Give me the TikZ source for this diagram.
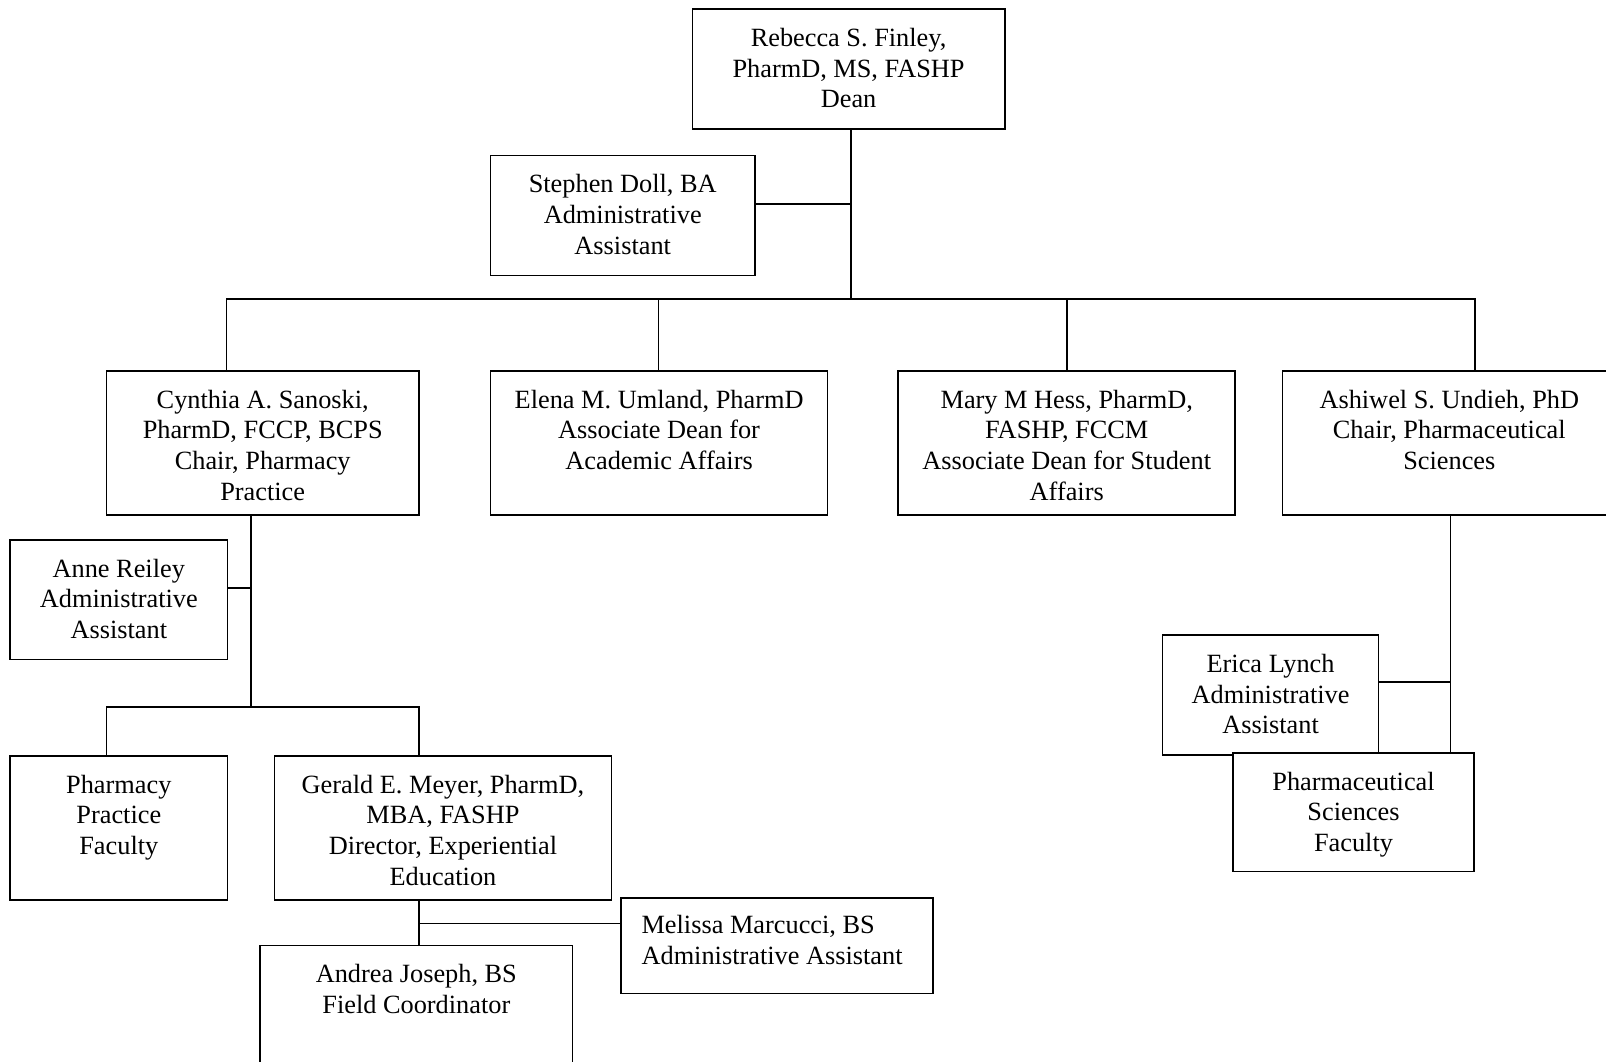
\documentclass[tikz,border=0pt]{standalone}
\usepackage{fontspec}
\setmainfont{Liberation Serif}
\begin{document}
\begin{tikzpicture}[x=0.5pt,y=-0.5pt,
  box/.style={draw, line width=0.8pt, fill=white, inner sep=0pt, outer sep=0pt, anchor=north west},
  txt/.style={align=center, inner sep=0pt, font=\fontsize{12.85pt}{15pt}\selectfont},
  ln/.style={line width=0.8pt},
  thinln/.style={line width=0.5pt}]
\clip (0,0) rectangle (1568,1036);
\fill[white] (0,0) rectangle (1568,1036);

% boxes
\node[box, minimum width=152.5pt, minimum height=58.5pt] (dean) at (676,9) {};
\node[box, minimum width=129pt, minimum height=58.5pt] (stephen) at (479,152) {};
\node[box, minimum width=152.5pt, minimum height=70.5pt] (cyn) at (104,362) {};
\node[box, minimum width=164.5pt, minimum height=70.5pt] (elena) at (479,362) {};
\node[box, minimum width=164.5pt, minimum height=70.5pt] (mary) at (877,362) {};
\node[box, minimum width=164pt, minimum height=70.5pt] (ash) at (1252,362) {};
\node[box, minimum width=106pt, minimum height=58.5pt] (anne) at (10,527) {};
\node[box, minimum width=106pt, minimum height=70.5pt] (ppf) at (10,738) {};
\node[box, minimum width=164.5pt, minimum height=70.5pt] (gerald) at (268,738) {};
\node[box, minimum width=152.5pt, minimum height=46.5pt] (melissa) at (606,877) {};
\node[box, minimum width=152.5pt, minimum height=75pt] (andrea) at (254,923) {};
\node[box, minimum width=105.5pt, minimum height=58.5pt] (erica) at (1135,620) {};
\node[box, minimum width=117.5pt, minimum height=58pt] (psf) at (1204,735) {};

% texts
\node[txt, below=7.5pt] (deanT) at (dean.north) {\strut Rebecca S. Finley,\\PharmD, MS, FASHP\\Dean};
\node[txt, below=7.5pt] (stephenT) at (stephen.north) {\strut Stephen Doll, BA\\Administrative\\Assistant};
\node[txt, below=7.5pt] (cynT) at (cyn.north) {\strut Cynthia A. Sanoski,\\PharmD, FCCP, BCPS\\Chair, Pharmacy\\Practice};
\node[txt, below=7.5pt] (elenaT) at (elena.north) {\strut Elena M. Umland, PharmD\\Associate Dean for\\Academic Affairs};
\node[txt, below=7.5pt] (maryT) at (mary.north) {\strut Mary M Hess, PharmD,\\FASHP, FCCM\\Associate Dean for Student\\Affairs};
\node[txt, below=7.5pt] (ashT) at ([xshift=-0.5pt]ash.north) {\strut Ashiwel S. Undieh, PhD\\Chair, Pharmaceutical\\Sciences};
\node[txt, below=7.5pt] (anneT) at (anne.north) {\strut Anne Reiley\\Administrative\\Assistant};
\node[txt, below=7.5pt] (ppfT) at (ppf.north) {\strut Pharmacy\\Practice\\Faculty};
\node[txt, below=7.5pt] (geraldT) at (gerald.north) {\strut Gerald E. Meyer, PharmD,\\MBA, FASHP\\Director, Experiential\\Education};
\node[txt, align=left, anchor=north west] (melissaT) at ([xshift=10pt,yshift=-6.5pt]melissa.north west) {\strut Melissa Marcucci, BS\\Administrative Assistant};
\node[txt, below=7.5pt] (andreaT) at (andrea.north) {\strut Andrea Joseph, BS\\Field Coordinator};
\node[txt, below=7.5pt] (ericaT) at (erica.north) {\strut Erica Lynch\\Administrative\\Assistant};
\node[txt, below=7.5pt] (psfT) at (psf.north) {\strut Pharmaceutical\\Sciences\\Faculty};

% connectors
\coordinate (dj) at (831,199);
\coordinate (bj) at (831,292);
\draw[ln] (dean.south -| bj) -- (bj);
\draw[ln] (stephen.east |- dj) -- (dj);
\coordinate (b1) at (221,292);
\coordinate (b2) at (643,292);
\coordinate (b3) at (1042,292);
\coordinate (b4) at (1440,292);
\draw[ln] (b1 |- cyn.north) -- (b1) -- (b4) -- (b4 |- ash.north);
\draw[ln] (b2) -- (b2 |- elena.north);
\draw[ln] (b3) -- (b3 |- mary.north);

\coordinate (cj) at (245,690);
\coordinate (aj) at (245,574);
\draw[ln] (cyn.south -| cj) -- (cj);
\draw[ln] (anne.east |- aj) -- (aj);
\coordinate (p1) at (104,690);
\coordinate (p2) at (409,690);
\draw[ln] (p1 |- ppf.north) -- (p1) -- (p2) -- (p2 |- gerald.north);

\coordinate (gj) at (409,902);
\draw[ln] (gerald.south -| gj) -- (andrea.north -| gj);
\draw[thinln] (gj) -- (melissa.west |- gj);

\coordinate (sj) at (1416,666);
\draw[ln] (ash.south -| sj) -- (psf.north -| sj);
\draw[ln] (erica.east |- sj) -- (sj);
\end{tikzpicture}
\end{document}
